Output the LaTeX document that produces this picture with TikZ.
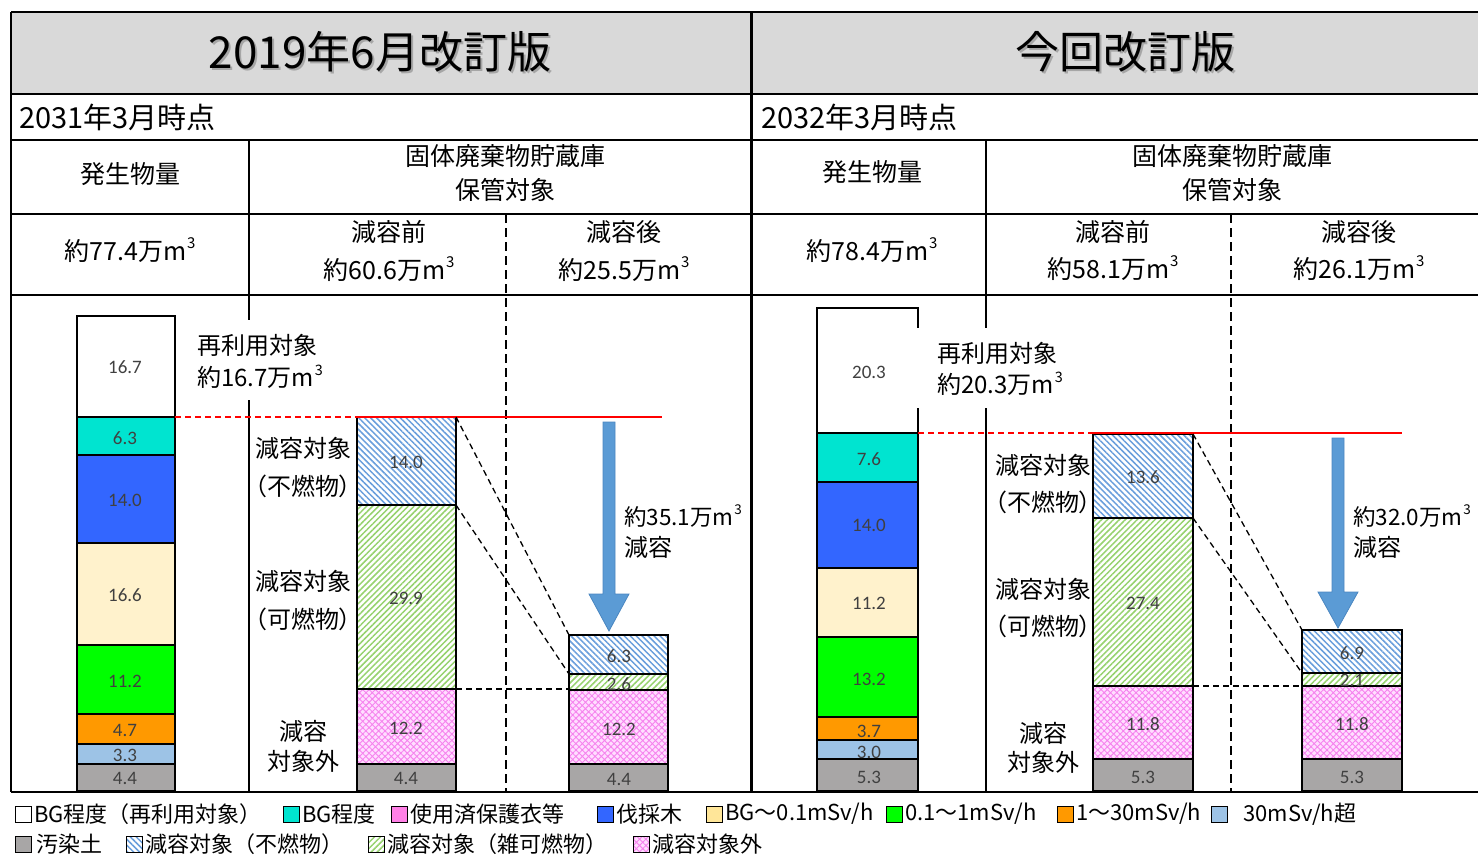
\documentclass[tikz,border=0pt]{standalone}
\usepackage{fontspec}
\setmainfont{Noto Sans CJK JP}
\newfontfamily\jpp[RawFeature=+palt]{Noto Sans CJK JP}
\newfontfamily\numfont{Carlito}
\usetikzlibrary{patterns.meta}
\newcommand\mcu{m\kern0.03em\raisebox{0.45em}{\scalebox{0.6}{3}}}
\definecolor{hdrgray}{HTML}{D9D9D9}
\definecolor{cyanc}{RGB}{0,228,208}
\definecolor{bluec}{RGB}{51,102,255}
\definecolor{creamc}{HTML}{FFF2CC}
\definecolor{creamleg}{HTML}{FFE699}
\definecolor{greenc}{HTML}{00FF00}
\definecolor{orangec}{HTML}{FF9900}
\definecolor{ltbluec}{HTML}{9DC3E6}
\definecolor{grayc}{RGB}{168,166,166}
\definecolor{numgray}{HTML}{404040}
\definecolor{hblue}{RGB}{105,158,220}
\definecolor{hgreen}{RGB}{150,210,110}
\definecolor{hpink}{RGB}{246,130,238}
\definecolor{bgpink}{RGB}{255,222,255}
\definecolor{pinkleg}{RGB}{255,128,230}
\definecolor{arrowc}{HTML}{5B9BD5}
\definecolor{arrowd}{HTML}{4A86C0}
\begin{document}
\begin{tikzpicture}[x=1pt,y=-1pt,
  jp/.style={inner sep=0pt, font=\fontsize{24}{28}\selectfont},
  jpc/.style={inner sep=0pt, font=\jpp\fontsize{24}{28}\selectfont},
  jps/.style={inner sep=0pt, font=\jpp\fontsize{22.5}{27}\selectfont},
  hdr/.style={inner sep=0pt, font=\fontsize{25}{29}\selectfont},
  leg/.style={inner sep=0pt, anchor=west, font=\fontsize{22}{26}\selectfont},
  legsq/.style={draw=black, line width=1pt},
  num/.style={inner sep=0pt, text=numgray, font=\numfont\fontsize{19}{22}\selectfont},
  barseg/.style={draw=black, line width=1.8pt},
  tbl/.style={line width=1.4pt},
  dashdiv/.style={line width=1.2pt, dash pattern=on 9pt off 5pt},
  hatchblue/.style={preaction={fill=white}, pattern={Lines[angle=-45,distance=4.2pt,line width=1.5pt]}, pattern color=hblue},
  hatchgreen/.style={preaction={fill=white}, pattern={Lines[angle=45,distance=4.2pt,line width=1.5pt]}, pattern color=hgreen},
  hatchpink/.style={preaction={fill=bgpink}, pattern={Hatch[angle=45,distance=4.5pt,line width=0.9pt]}, pattern color=hpink},
  redsolid/.style={red, line width=1.4pt},
  reddash/.style={red, line width=1.4pt, dash pattern=on 6pt off 4pt},
  conn/.style={black, line width=1.3pt, dash pattern=on 6pt off 4pt},
  bigarrow/.style={fill=arrowc, draw=arrowd, line width=0.8pt}
]
\useasboundingbox (0,0) rectangle (1478,855);
% ---------- table ----------
\fill[hdrgray] (11,12) rectangle (1478,94);
\draw[tbl] (11,12) -- (1478,12);
\draw[tbl] (11,94) -- (1478,94);
\draw[tbl] (11,140) -- (1478,140);
\draw[tbl] (11,214) -- (1478,214);
\draw[tbl] (11,295) -- (1478,295);
\draw[tbl] (11,792) -- (1478,792);
\draw[tbl] (11,12) -- (11,792);
\draw[line width=3pt] (751,12) -- (751,792);
\draw[tbl] (249,140) -- (249,792);
\draw[tbl] (986,140) -- (986,792);
\draw[dashdiv] (506,214) -- (506,792);
\draw[dashdiv] (1231,214) -- (1231,792);
% titles
\node[inner sep=0pt, text=black!35, font=\fontsize{44}{50}\selectfont] (t1s) at (382,54) {2019年6月改訂版};
\node[inner sep=0pt, font=\fontsize{44}{50}\selectfont] (t1) at (380,52) {2019年6月改訂版};
\node[inner sep=0pt, text=black!35, font=\fontsize{44}{50}\selectfont] (t2s) at (1127,54) {今回改訂版};
\node[inner sep=0pt, font=\fontsize{44}{50}\selectfont] (t2) at (1125,52) {今回改訂版};
\node[inner sep=0pt, anchor=west, font=\fontsize{29}{33}\selectfont] (d1) at (19,117) {2031年3月時点};
\node[inner sep=0pt, anchor=west, font=\fontsize{29}{33}\selectfont] (d2) at (761,117) {2032年3月時点};
% left header cells
\node[hdr] (h1a) at (130,174) {発生物量};
\node[hdr] (h1b) at (505,156) {固体廃棄物貯蔵庫};
\node[hdr] (h1c) at (505,190) {保管対象};
\node[hdr] (h1d) at (130,250) {約77.4万\mcu};
\node[hdr] (h1e) at (389,232) {減容前};
\node[hdr] (h1f) at (389,269) {約60.6万\mcu};
\node[hdr] (h1g) at (624,232) {減容後};
\node[hdr] (h1h) at (624,269) {約25.5万\mcu};
% right header cells
\node[hdr] (h2a) at (872,172) {発生物量};
\node[hdr] (h2b) at (1232,156) {固体廃棄物貯蔵庫};
\node[hdr] (h2c) at (1232,190) {保管対象};
\node[hdr] (h2d) at (872,250) {約78.4万\mcu};
\node[hdr] (h2e) at (1113,232) {減容前};
\node[hdr] (h2f) at (1113,268) {約58.1万\mcu};
\node[hdr] (h2g) at (1359,232) {減容後};
\node[hdr] (h2h) at (1359,268) {約26.1万\mcu};
% ---------- left bars ----------
\draw[barseg, fill=white]   (77,316) rectangle (175,417);
\draw[barseg, fill=cyanc]   (77,417) rectangle (175,455);
\draw[barseg, fill=bluec]   (77,455) rectangle (175,543);
\draw[barseg, fill=creamc]  (77,543) rectangle (175,645);
\draw[barseg, fill=greenc]  (77,645) rectangle (175,714);
\draw[barseg, fill=orangec] (77,714) rectangle (175,744);
\draw[barseg, fill=ltbluec] (77,744) rectangle (175,764);
\draw[barseg, fill=grayc]   (77,764) rectangle (175,791);
\draw[barseg, hatchblue]  (357,417) rectangle (456,505);
\draw[barseg, hatchgreen] (357,505) rectangle (456,689);
\draw[barseg, hatchpink]  (357,689) rectangle (456,764);
\draw[barseg, fill=grayc] (357,764) rectangle (456,791);
\draw[barseg, hatchblue]  (569,635) rectangle (668,674);
\draw[barseg, hatchgreen] (569,674) rectangle (668,690);
\draw[barseg, hatchpink]  (569,690) rectangle (668,764);
\draw[barseg, fill=grayc] (569,764) rectangle (668,791);
\coordinate (La1) at (175,417);
\coordinate (Lb1) at (357,417);
\coordinate (Lr1) at (662,417);
\coordinate (Lb2t) at (456,417);
\coordinate (Lb2m) at (456,505);
\coordinate (Lb2p) at (456,689);
\coordinate (Lb3t) at (569,635);
\coordinate (Lb3m) at (569,674);
\coordinate (Lb3p) at (569,689);
% numbers
\node[num] (n1) at (125,367) {16.7};
\node[num] (n2) at (125,438) {6.3};
\node[num] (n3) at (125,500) {14.0};
\node[num] (n4) at (125,595) {16.6};
\node[num] (n5) at (125,681) {11.2};
\node[num] (n6) at (125,730) {4.7};
\node[num] (n7) at (125,755) {3.3};
\node[num] (n8) at (125,778) {4.4};
\node[num] (n9) at (406,462) {14.0};
\node[num] (n10) at (406,598) {29.9};
\node[num] (n11) at (406,728) {12.2};
\node[num] (n12) at (406,778) {4.4};
\node[num] (n13) at (619,656) {6.3};
\node[num] (n14) at (619,684) {2.6};
\node[num] (n15) at (619,729) {12.2};
\node[num] (n16) at (619,779) {4.4};
% ---------- right bars ----------
\draw[barseg, fill=white]   (817,308) rectangle (918,433);
\draw[barseg, fill=cyanc]   (817,433) rectangle (918,482);
\draw[barseg, fill=bluec]   (817,482) rectangle (918,568);
\draw[barseg, fill=creamc]  (817,568) rectangle (918,637);
\draw[barseg, fill=greenc]  (817,637) rectangle (918,717);
\draw[barseg, fill=orangec] (817,717) rectangle (918,740);
\draw[barseg, fill=ltbluec] (817,740) rectangle (918,759);
\draw[barseg, fill=grayc]   (817,759) rectangle (918,791);
\draw[barseg, hatchblue]  (1093,434) rectangle (1193,518);
\draw[barseg, hatchgreen] (1093,518) rectangle (1193,686);
\draw[barseg, hatchpink]  (1093,686) rectangle (1193,759);
\draw[barseg, fill=grayc] (1093,759) rectangle (1193,791);
\draw[barseg, hatchblue]  (1302,630) rectangle (1402,673);
\draw[barseg, hatchgreen] (1302,673) rectangle (1402,686);
\draw[barseg, hatchpink]  (1302,686) rectangle (1402,759);
\draw[barseg, fill=grayc] (1302,759) rectangle (1402,791);
\coordinate (Ra1) at (918,433);
\coordinate (Rb1) at (1093,433);
\coordinate (Rr1) at (1402,433);
\coordinate (Rb2t) at (1193,434);
\coordinate (Rb2m) at (1193,518);
\coordinate (Rb2p) at (1193,686);
\coordinate (Rb3t) at (1302,630);
\coordinate (Rb3m) at (1302,673);
\coordinate (Rb3p) at (1302,686);
\node[num] (m1) at (869,372) {20.3};
\node[num] (m2) at (869,459) {7.6};
\node[num] (m3) at (869,525) {14.0};
\node[num] (m4) at (869,603) {11.2};
\node[num] (m5) at (869,679) {13.2};
\node[num] (m6) at (869,731) {3.7};
\node[num] (m7) at (869,752) {3.0};
\node[num] (m8) at (869,777) {5.3};
\node[num] (m9) at (1143,477) {13.6};
\node[num] (m10) at (1143,603) {27.4};
\node[num] (m11) at (1143,724) {11.8};
\node[num] (m12) at (1143,777) {5.3};
\node[num] (m13) at (1352,653) {6.9};
\node[num] (m14) at (1352,680) {2.1};
\node[num] (m15) at (1352,724) {11.8};
\node[num] (m16) at (1352,777) {5.3};
% ---------- red lines, connectors ----------
\draw[reddash] (La1) -- (Lb1);
\draw[redsolid] (Lb1) -- (Lr1);
\draw[conn] (Lb2t) -- (Lb3t);
\draw[conn] (Lb2m) -- (Lb3m);
\draw[conn] (Lb2p) -- (Lb3p);
\draw[reddash] (Ra1) -- (Rb1);
\draw[redsolid] (Rb1) -- (Rr1);
\draw[conn] (Rb2t) -- (Rb3t);
\draw[conn] (Rb2m) -- (Rb3m);
\draw[conn] (Rb2p) -- (Rb3p);
% arrows
\draw[bigarrow] (603,422) -- (615,422) -- (615,594) -- (629,594) -- (609,631) -- (589,594) -- (603,594) -- cycle;
\draw[bigarrow] (1332,438) -- (1344,438) -- (1344,592) -- (1358,592) -- (1338,628) -- (1318,592) -- (1332,592) -- cycle;
% ---------- chart labels ----------
\fill[white] (185,320) rectangle (330,400);
\fill[white] (916,328) rectangle (1065,408);
\node[jp, anchor=west] (l1) at (197,345) {再利用対象};
\node[jp, anchor=west] (l2) at (197,377) {約16.7万\mcu};
\node[jp] (l3) at (303,448) {減容対象};
\node[jpc] (l4) at (303,486) {（不燃物）};
\node[jp] (l5) at (303,581) {減容対象};
\node[jpc] (l6) at (303,619) {（可燃物）};
\node[jp] (l7) at (303,731) {減容};
\node[jp] (l8) at (303,761) {対象外};
\node[jps, anchor=west] (l9) at (624,516) {約35.1万\mcu};
\node[jp, anchor=west] (l10) at (624,547) {減容};
\node[jp, anchor=west] (r1) at (937,353) {再利用対象};
\node[jp, anchor=west] (r2) at (937,384) {約20.3万\mcu};
\node[jp] (r3) at (1043,465) {減容対象};
\node[jpc] (r4) at (1043,502) {（不燃物）};
\node[jp] (r5) at (1043,589) {減容対象};
\node[jpc] (r6) at (1043,626) {（可燃物）};
\node[jp] (r7) at (1043,733) {減容};
\node[jp] (r8) at (1043,762) {対象外};
\node[jps, anchor=west] (r9) at (1353,516) {約32.0万\mcu};
\node[jp, anchor=west] (r10) at (1353,547) {減容};
% ---------- legend ----------
\draw[legsq, fill=white]   (15,806) rectangle (31,822);
\node[leg] (g1) at (34,814) {BG程度（再利用対象）};
\draw[legsq, fill=cyanc]   (283,806) rectangle (299,822);
\node[leg] (g2) at (302,814) {BG程度};
\draw[legsq, fill=pinkleg] (391,806) rectangle (407,822);
\node[leg] (g3) at (410,814) {使用済保護衣等};
\draw[legsq, fill=bluec]   (597,806) rectangle (613,822);
\node[leg] (g4) at (616,814) {伐採木};
\draw[legsq, fill=creamleg] (706,806) rectangle (722,822);
\node[leg] (g5) at (725,814) {BG～0.1mSv/h};
\draw[legsq, fill=greenc]  (886,806) rectangle (902,822);
\node[leg] (g6) at (905,814) {0.1～1mSv/h};
\draw[legsq, fill=orangec] (1057,806) rectangle (1073,822);
\node[leg] (g7) at (1076,814) {1～30mSv/h};
\draw[legsq, fill=ltbluec] (1211,806) rectangle (1227,822);
\node[leg] (g8) at (1243,814) {30mSv/h超};
\draw[legsq, fill=grayc]   (15,836) rectangle (31,852);
\node[leg] (g9) at (36,844) {汚染土};
\draw[legsq, hatchblue]    (126,836) rectangle (142,852);
\node[leg] (g10) at (145,844) {減容対象（不燃物）};
\draw[legsq, hatchgreen]   (368,836) rectangle (384,852);
\node[leg] (g11) at (387,844) {減容対象（雑可燃物）};
\draw[legsq, hatchpink]    (633,836) rectangle (649,852);
\node[leg] (g12) at (652,844) {減容対象外};
\end{tikzpicture}
\end{document}
